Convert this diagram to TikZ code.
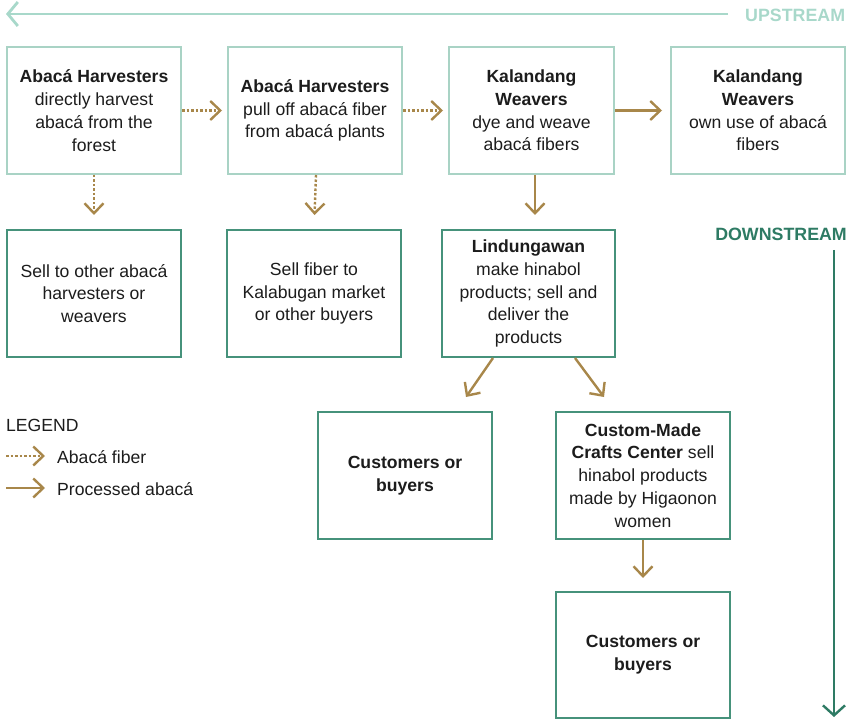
\documentclass[tikz,border=0pt]{standalone}
\usepackage{fontspec}
\setmainfont{Liberation Sans}
\usetikzlibrary{arrows.meta,calc}
\definecolor{boxlight}{HTML}{A9D3C5}
\definecolor{boxdark}{HTML}{46927B}
\definecolor{uplight}{HTML}{A8D8CA}
\definecolor{downdark}{HTML}{2E7B64}
\definecolor{gold}{HTML}{A8874A}
\definecolor{txt}{HTML}{1C1C1C}
\tikzset{
  every node/.style={font=\fontsize{17.6}{22.8}\selectfont, text=txt},
  upbox/.style={draw=boxlight, line width=2pt, minimum width=174pt, minimum height=127pt, inner sep=0pt, align=center, anchor=north west},
  lowbox/.style={upbox, draw=boxdark},
  solidarrow/.style={draw=gold, line width=2.4pt, -{Straight Barb[length=10pt,width=19pt]}},
  dotarrow/.style={solidarrow, dash pattern=on 2.5pt off 2pt},
}
\begin{document}
\begin{tikzpicture}[x=1pt,y=-1pt]
\useasboundingbox (0,0) rectangle (851,719);
% upstream / downstream
\node[anchor=west, text=uplight, font=\fontsize{17.8}{20}\selectfont\bfseries, inner sep=0pt] (uptxt) at (745,15) {UPSTREAM};
\coordinate (upend) at (6,14);
\draw[draw=uplight, line width=2.8pt, -{Straight Barb[length=10pt,width=24pt]}] ([xshift=-17pt,yshift=1pt]uptxt.west) -- (upend);
\node[anchor=east, text=downdark, font=\fontsize{17.8}{20}\selectfont\bfseries, inner sep=0pt] (downtxt) at (847,234) {DOWNSTREAM};
\coordinate (downend) at (834,717);
\draw[draw=downdark, line width=2.4pt, -{Straight Barb[length=10pt,width=22pt]}] (834,250) -- (downend);
% top row
\node[upbox] (b1) at (6,46) {\textbf{Abacá Harvesters}\\directly harvest\\abacá from the\\forest};
\node[upbox] (b2) at (227,46) {\textbf{Abacá Harvesters}\\pull off abacá fiber\\from abacá plants};
\node[upbox, minimum width=165pt] (b3) at (448,46) {\textbf{Kalandang}\\\textbf{Weavers}\\dye and weave\\abacá fibers};
\node[upbox] (b4) at (670,46) {\textbf{Kalandang}\\\textbf{Weavers}\\own use of abacá\\fibers};
% second row
\node[lowbox] (b5) at (6,229) {Sell to other abacá\\harvesters or\\weavers};
\node[lowbox] (b6) at (226,229) {Sell fiber to\\Kalabugan market\\or other buyers};
\node[lowbox, minimum width=173pt] (b7) at (441,229) {\textbf{Lindungawan}\\make hinabol\\products; sell and\\deliver the\\products};
% third row
\node[lowbox] (c1) at (317,411) {\textbf{Customers or}\\\textbf{buyers}};
\node[lowbox] (cm) at (555,411) {\textbf{Custom-Made}\\\textbf{Crafts Center} sell\\hinabol products\\made by Higaonon\\women};
% fourth row
\node[lowbox, minimum height=126pt] (c2) at (555,591) {\textbf{Customers or}\\\textbf{buyers}};
% connectors
\draw[dotarrow, shorten >=5pt] (b1.east) -- (b2.west);
\draw[dotarrow, shorten >=5pt] (b2.east) -- (b3.west);
\draw[solidarrow, shorten >=8pt] (b3.east) -- (b4.west);
\draw[dotarrow, shorten >=14pt] (b1.south) -- (b5.north);
\draw[dotarrow, shorten >=14pt] ([xshift=1pt]b2.south) -- ([xshift=0pt]b6.north);
\draw[solidarrow, shorten >=14pt] ([xshift=3.5pt]b3.south) -- ([xshift=6.5pt]b7.north);
\draw[solidarrow] ([xshift=-35.5pt]b7.south) -- ([xshift=61pt,yshift=14pt]c1.north);
\draw[solidarrow] ([xshift=46.5pt]b7.south) -- ([xshift=-39pt,yshift=14pt]cm.north);
\draw[solidarrow, shorten >=13pt] (cm.south) -- (c2.north);
% legend
\node[anchor=west, inner sep=0pt] (leg) at (6,425) {LEGEND};
\coordinate (l1s) at (6,456); \coordinate (l1e) at (45,456);
\coordinate (l2s) at (6,488); \coordinate (l2e) at (45,488);
\draw[dotarrow] (l1s) -- (l1e);
\draw[solidarrow] (l2s) -- (l2e);
\node[anchor=west, inner sep=0pt] (leg1) at (57,457) {Abacá fiber};
\node[anchor=west, inner sep=0pt] (leg2) at (57,489) {Processed abacá};
\end{tikzpicture}
\end{document}
